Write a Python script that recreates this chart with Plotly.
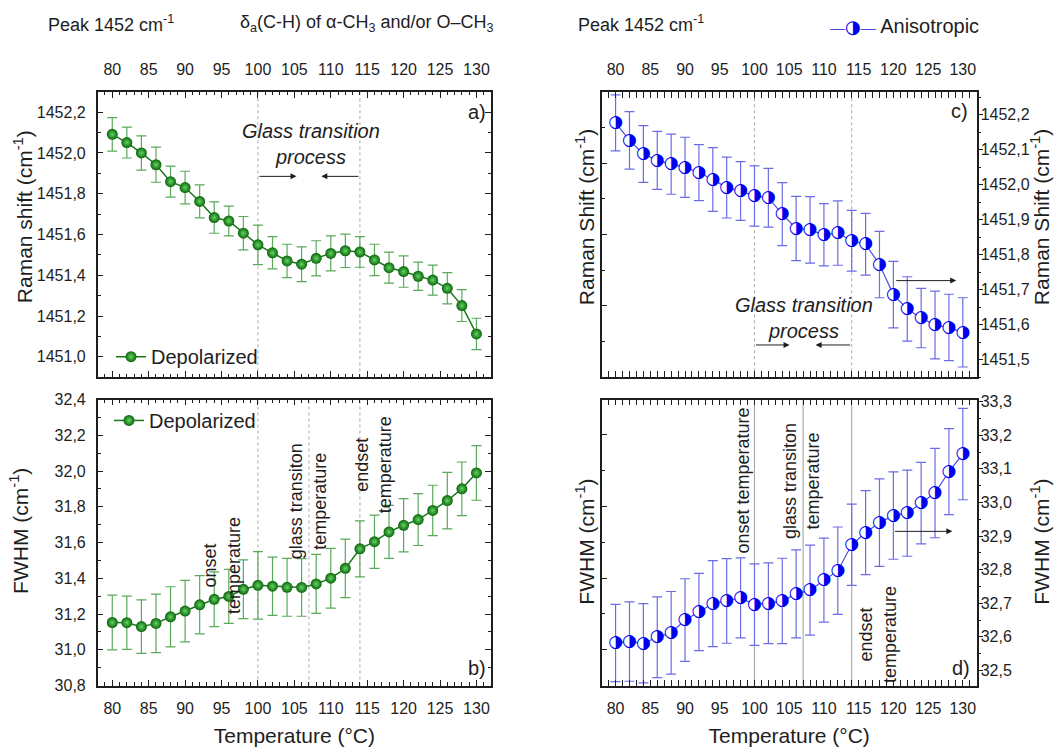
import plotly.graph_objects as go

# ---------------- data ----------------
temps = [80, 82, 84, 86, 88, 90, 92, 94, 96, 98, 100, 102, 104, 106, 108,
         110, 112, 114, 116, 118, 120, 122, 124, 126, 128, 130]

dep_shift = [1452.091, 1452.051, 1452.000, 1451.942, 1451.859, 1451.830, 1451.762,
             1451.683, 1451.666, 1451.606, 1451.549, 1451.510, 1451.470, 1451.454,
             1451.483, 1451.507, 1451.520, 1451.514, 1451.475, 1451.437, 1451.418,
             1451.395, 1451.376, 1451.336, 1451.251, 1451.112]
dep_shift_err = [0.082, 0.076, 0.084, 0.086, 0.076, 0.080, 0.081, 0.077, 0.073, 0.082,
                 0.097, 0.079, 0.082, 0.085, 0.086, 0.086, 0.082, 0.075, 0.077, 0.076,
                 0.077, 0.069, 0.074, 0.077, 0.078, 0.077]

dep_fwhm = [31.153, 31.152, 31.130, 31.148, 31.185, 31.217, 31.252, 31.283, 31.299,
            31.339, 31.361, 31.356, 31.350, 31.349, 31.369, 31.401, 31.456, 31.565,
            31.605, 31.660, 31.697, 31.729, 31.780, 31.835, 31.901, 31.990]
dep_fwhm_err = [0.153, 0.149, 0.150, 0.164, 0.168, 0.172, 0.163, 0.153, 0.151, 0.164,
                0.189, 0.163, 0.162, 0.161, 0.165, 0.167, 0.164, 0.157, 0.149, 0.148,
                0.149, 0.145, 0.141, 0.158, 0.150, 0.153]

ani_shift = [1452.177, 1452.127, 1452.088, 1452.070, 1452.059, 1452.050, 1452.035,
             1452.015, 1451.992, 1451.982, 1451.968, 1451.963, 1451.916, 1451.875,
             1451.871, 1451.857, 1451.862, 1451.840, 1451.830, 1451.772, 1451.686,
             1451.645, 1451.619, 1451.599, 1451.592, 1451.578]
ani_shift_err = [0.080, 0.082, 0.081, 0.083, 0.086, 0.086, 0.080, 0.091, 0.087, 0.084,
                 0.086, 0.084, 0.090, 0.092, 0.095, 0.089, 0.092, 0.087, 0.088, 0.095,
                 0.095, 0.092, 0.085, 0.097, 0.095, 0.099]

ani_fwhm = [32.582, 32.586, 32.581, 32.599, 32.612, 32.650, 32.674, 32.699, 32.707,
            32.716, 32.696, 32.700, 32.707, 32.728, 32.739, 32.769, 32.797, 32.874,
            32.910, 32.940, 32.961, 32.968, 32.998, 33.028, 33.092, 33.144]
ani_fwhm_err = [0.115, 0.118, 0.118, 0.120, 0.123, 0.123, 0.115, 0.128, 0.126, 0.119,
                0.121, 0.120, 0.127, 0.131, 0.134, 0.125, 0.130, 0.121, 0.125, 0.130,
                0.130, 0.128, 0.121, 0.133, 0.128, 0.136]

x_ticks = [80, 85, 90, 95, 100, 105, 110, 115, 120, 125, 130]
onset_T, glass_T, endset_T = 100, 107, 114

# ---------------- styles ----------------
FONT = "Liberation Sans, Arial, sans-serif"
INK = "#1e1e1e"
G_LINE, G_MARK, G_HI, G_ERR = "#157a15", "#0b650b", "#63d463", "#5aa95a"
B_LINE, B_MARK, B_ERR = "#4a4ae0", "#0000ee", "#6b6be8"

fig = go.Figure()

def green(y, err, xa, ya, leg):
    fig.add_trace(go.Scatter(
        x=temps, y=y, mode="lines+markers", name="Depolarized",
        line=dict(color=G_LINE, width=1.5),
        marker=dict(size=11, color=G_MARK, gradient=dict(type="radial", color=G_HI),
                    line=dict(width=0)),
        error_y=dict(type="data", array=err, color=G_ERR, thickness=1.2, width=5),
        xaxis=xa, yaxis=ya, legend=leg, showlegend=True, hoverinfo="skip"))

def blue(y, err, xa, ya):
    fig.add_trace(go.Scatter(
        x=temps, y=y, mode="lines+markers", name="Anisotropic",
        line=dict(color=B_LINE, width=1.2),
        marker=dict(size=11, color="white", line=dict(width=0)),
        error_y=dict(type="data", array=err, color=B_ERR, thickness=1.2, width=5),
        xaxis=xa, yaxis=ya, showlegend=False, hoverinfo="skip"))
    fig.add_trace(go.Scatter(
        x=temps, y=y, mode="text", text="\u25D1",
        textfont=dict(family="DejaVu Sans", size=17, color=B_MARK),
        textposition="middle center",
        xaxis=xa, yaxis=ya, showlegend=False, hoverinfo="skip"))

green(dep_shift, dep_shift_err, "x", "y", "legend")
green(dep_fwhm, dep_fwhm_err, "x2", "y2", "legend2")
blue(ani_shift, ani_shift_err, "x3", "y3")
blue(ani_fwhm, ani_fwhm_err, "x4", "y5")
# empty traces so the decorative left axes of the right panels exist
fig.add_trace(go.Scatter(x=[None], y=[None], xaxis="x3", yaxis="y4", showlegend=False))
fig.add_trace(go.Scatter(x=[None], y=[None], xaxis="x4", yaxis="y6", showlegend=False))

W, H = 1062, 751
def px_x(p): return p / W
def px_y(p): return 1 - p / H

LX = [px_x(97.7), px_x(491)]
RX = [px_x(601.7), px_x(976.7)]
TY = [px_y(377.7), px_y(85.7)]
BY = [px_y(693.3), px_y(400.7)]

tickfont = dict(family=FONT, size=16, color=INK)
titlefont = dict(family=FONT, size=21, color=INK)

def xax(domain, anchor, side, title=None):
    d = dict(domain=domain, anchor=anchor, side=side, range=[78, 132],
             tickvals=x_ticks, ticks="inside", ticklen=6, tickwidth=1.2, tickcolor=INK,
             showline=True, linecolor=INK, linewidth=1.5, mirror="allticks",
             showgrid=False, zeroline=False, tickfont=tickfont,
             ticklabelstandoff=9 if side == "top" else 7,
             minor=dict(dtick=1, tick0=80, ticks="inside", ticklen=3.5, tickwidth=1,
                        tickcolor=INK, showgrid=False))
    if title:
        d["title"] = dict(text=title, font=titlefont, standoff=13)
    return d

def yleft(domain, anchor, rng, dt):
    return dict(domain=domain, anchor=anchor, range=rng, dtick=dt, tick0=0,
                tickformat=".1f", ticks="inside", ticklen=6, tickwidth=1.2, tickcolor=INK,
                showline=True, linecolor=INK, linewidth=1.5, mirror="allticks",
                showgrid=False, zeroline=False, tickfont=tickfont, ticklabelstandoff=7,
                minor=dict(dtick=dt / 2, ticks="inside", ticklen=3.5, tickwidth=1,
                           tickcolor=INK, showgrid=False))

def yright(domain, anchor, rng):
    return dict(domain=domain, anchor=anchor, side="right", range=rng, dtick=0.1,
                tick0=0, tickformat=".1f", ticks="outside", ticklen=5, tickwidth=1.2,
                tickcolor=INK, showline=True, linecolor=INK, linewidth=1.5, mirror=False,
                showgrid=False, zeroline=False, tickfont=tickfont, ticklabelstandoff=-6,
                minor=dict(dtick=0.05, ticks="outside", ticklen=3, tickwidth=1,
                           tickcolor=INK, showgrid=False))

def ydummy(over, anchor, rng):
    return dict(overlaying=over, anchor=anchor, side="left", range=rng, dtick=1,
                ticks="inside", ticklen=6, tickwidth=1.2, tickcolor=INK,
                showticklabels=False, showline=True, linecolor=INK, linewidth=1.5,
                showgrid=False, zeroline=False,
                minor=dict(dtick=0.5, ticks="inside", ticklen=3.5, tickwidth=1,
                           tickcolor=INK, showgrid=False))

legfont = dict(family=FONT, size=20, color=INK)

fig.update_layout(
    width=W, height=H, margin=dict(l=0, r=0, t=0, b=0),
    paper_bgcolor="white", plot_bgcolor="white", separators=",.",
    font=dict(family=FONT, color=INK),
    xaxis=xax(LX, "y", "top"),
    yaxis=yleft(TY, "x", [1450.9, 1452.3], 0.2),
    xaxis2=xax(LX, "y2", "bottom", "Temperature (°C)"),
    yaxis2=yleft(BY, "x2", [30.8, 32.4], 0.2),
    xaxis3=xax(RX, "y3", "top"),
    yaxis3=yright(TY, "x3", [1451.45, 1452.266]),
    yaxis4=ydummy("y3", "x3", [0, 4]),
    xaxis4=xax(RX, "y5", "bottom", "Temperature (°C)"),
    yaxis5=yright(BY, "x4", [32.455, 33.306]),
    yaxis6=ydummy("y5", "x4", [0.5, 4.49]),
    legend=dict(x=px_x(111), y=px_y(356.7), xanchor="left", yanchor="middle",
                bgcolor="rgba(0,0,0,0)", font=legfont, itemwidth=30, tracegroupgap=0),
    legend2=dict(x=px_x(109), y=px_y(422), xanchor="left", yanchor="middle",
                 bgcolor="rgba(0,0,0,0)", font=legfont, itemwidth=30, tracegroupgap=0),
)

# ---------------- reference lines ----------------
shapes = []
for xa, ya, xs, dash, col in [("x", "y", [onset_T, endset_T], "dot", "#b0b0b0"),
                              ("x2", "y2", [onset_T, glass_T, endset_T], "dot", "#b0b0b0"),
                              ("x3", "y3", [onset_T, endset_T], "dot", "#b0b0b0"),
                              ("x4", "y5", [onset_T, glass_T, endset_T], "solid", "#a8a8a8")]:
    for xv in xs:
        shapes.append(dict(type="line", xref=xa, yref=ya + " domain", x0=xv, x1=xv,
                           y0=0, y1=1, layer="below",
                           line=dict(color=col, width=1.1, dash=dash)))
fig.update_layout(shapes=shapes)

# ---------------- annotations ----------------
ann = []
txt18 = dict(family=FONT, size=18, color=INK)
txt20 = dict(family=FONT, size=20, color=INK)

def note(xa, ya, x, y, text, font=txt18, angle=0, xanchor="center"):
    ann.append(dict(xref=xa, yref=ya, x=x, y=y, text=text, showarrow=False,
                    font=font, textangle=angle, xanchor=xanchor, yanchor="middle"))

def arrow(xa, ya, x0, x1, y):
    ann.append(dict(xref=xa, yref=ya, axref=xa, ayref=ya, x=x1, y=y, ax=x0, ay=y,
                    text="", showarrow=True, arrowhead=2, arrowsize=1.2,
                    arrowwidth=1, arrowcolor=INK, standoff=0, startstandoff=0))

# a)
note("x", "y", 107.3, 1452.044, "<i>Glass transition<br>process</i>", txt20)
arrow("x", "y", onset_T, 105.3, 1451.885)
arrow("x", "y", endset_T, 108.7, 1451.885)
note("x", "y", 131.6, 1452.2, "a)", txt20, xanchor="right")
# b)
note("x2", "y2", 95.1, 31.47, "onset<br>temperature", txt18, -90)
note("x2", "y2", 106.85, 31.83, "glass transiton<br>temperature", txt18, -90)
note("x2", "y2", 115.85, 32.035, "endset<br>temperature", txt18, -90)
note("x2", "y2", 131.6, 30.9, "b)", txt20, xanchor="right")
# c)
note("x3", "y3", 107.2, 1451.618, "<i>Glass transition<br>process</i>", txt20)
arrow("x3", "y3", onset_T, 105.05, 1451.542)
arrow("x3", "y3", endset_T, 108.8, 1451.542)
arrow("x3", "y3", 120.2, 129.05, 1451.726)
note("x3", "y3", 131.0, 1452.21, "c)", txt20, xanchor="right")
# d)
note("x4", "y5", 98.3, 33.064, "onset temperature", txt18, -90)
note("x4", "y5", 106.85, 33.064, "glass transiton<br>temperature", txt18, -90)
note("x4", "y5", 117.8, 32.606, "endset<br>temperature", txt18, -90)
arrow("x4", "y5", 120, 128.5, 32.914)
note("x4", "y5", 131.3, 32.507, "d)", txt20, xanchor="right")

# axis titles of the y axes (placed as in the reference)
def ytitle(xp, yp, text):
    ann.append(dict(xref="paper", yref="paper", x=px_x(xp), y=px_y(yp), text=text,
                    showarrow=False, font=titlefont, textangle=-90,
                    xanchor="center", yanchor="middle"))

ytitle(23, 214, "Raman shift (cm<sup>-1</sup>)")
ytitle(19, 535, "FWHM (cm<sup>-1</sup>)")
ytitle(585, 214, "Raman Shift (cm<sup>-1</sup>)")
ytitle(1040, 214, "Raman Shift (cm<sup>-1</sup>)")
ytitle(585, 546, "FWHM (cm<sup>-1</sup>)")
ytitle(1040, 546, "FWHM (cm<sup>-1</sup>)")

# header texts
def header(xp, yp, text, font):
    ann.append(dict(xref="paper", yref="paper", x=px_x(xp), y=px_y(yp), xanchor="left",
                    yanchor="middle", showarrow=False, font=font, text=text))

header(46, 16, "Peak 1452 cm<sup>-1</sup>", txt18)
header(238, 16, "δ<sub>a</sub>(C-H) of α-CH<sub>3</sub> and/or O–CH<sub>3</sub>", txt18)
header(576, 16, "Peak 1452 cm<sup>-1</sup>", txt18)
header(828, 18,
       f'<span style="color:{B_LINE};font-size:15px">—</span>'
       f'<span style="color:{B_MARK};font-family:DejaVu Sans;font-size:18px">\u25D1</span>'
       f'<span style="color:{B_LINE};font-size:15px">—</span> Anisotropic', txt20)
fig.update_layout(annotations=ann)

fig.write_html("out.html", config={"displayModeBar": False},
               post_script="document.body.style.margin='0';document.body.style.padding='0';")
